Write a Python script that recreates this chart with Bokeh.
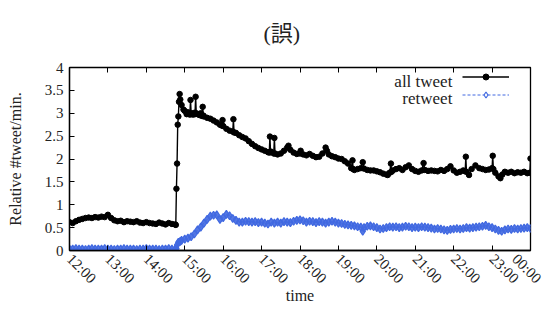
import math
from bokeh.plotting import figure
from bokeh.models import (ColumnDataSource, FixedTicker, LinearAxis, Legend,
                          LegendItem, Label, Range1d)
from bokeh.embed import file_html
from bokeh.resources import INLINE

# ---------------- data ----------------
hour_ticks = [0, 60, 120, 180, 240, 300, 360, 420, 480, 540, 600, 660, 720]  # minutes after 12:00
hour_labels = ["12:00", "13:00", "14:00", "15:00", "16:00", "17:00", "18:00",
               "19:00", "20:00", "21:00", "22:00", "23:00", "00:00"]
y_ticks = [0, 0.5, 1, 1.5, 2, 2.5, 3, 3.5, 4]
y_tick_labels = ["0", "0.5", "1", "1.5", "2", "2.5", "3", "3.5", "4"]

all_minutes = [0, 5, 10, 15, 20, 25, 30, 35, 40, 45, 50, 55, 60, 65, 70, 75, 80, 85, 90, 95,
               100, 105, 110, 115, 120, 125, 130, 135, 140, 145, 150, 155, 160, 165, 166,
               167, 168, 169, 170, 171, 172, 173, 175, 178, 180, 183, 185, 188, 189, 190,
               193, 195, 196, 197, 198, 200, 203, 205, 207, 208, 209, 210, 215, 220, 225,
               230, 235, 238, 239, 240, 245, 250, 255, 256, 257, 260, 265, 270, 275, 280,
               285, 290, 295, 300, 305, 310, 312, 313, 314, 315, 319, 320, 321, 325, 330,
               335, 340, 342, 345, 350, 355, 360, 361, 365, 370, 375, 380, 385, 390, 395,
               400, 402, 405, 410, 415, 420, 425, 430, 435, 440, 442, 443, 445, 450, 455,
               458, 460, 465, 470, 475, 480, 485, 490, 495, 497, 500, 502, 503, 505, 510,
               515, 520, 525, 530, 535, 540, 545, 550, 553, 555, 560, 565, 570, 575, 580,
               585, 590, 595, 600, 605, 610, 615, 618, 619, 620, 624, 628, 634, 640, 645,
               650, 655, 660, 661, 662, 665, 670, 673, 676, 680, 685, 690, 695, 700, 705,
               710, 715, 719, 720]
all_values = [0.62, 0.60, 0.64, 0.67, 0.69, 0.71, 0.72, 0.71, 0.73, 0.72, 0.74, 0.73, 0.78, 0.71,
              0.66, 0.64, 0.65, 0.62, 0.64, 0.63, 0.62, 0.64, 0.61, 0.60, 0.62, 0.60, 0.59, 0.58,
              0.61, 0.59, 0.57, 0.60, 0.58, 0.57, 0.56,
              1.35, 1.90, 2.75, 2.93, 3.25, 3.42, 3.30, 3.18, 3.08, 3.05, 2.98, 3.02, 2.97, 3.29,
              3.00, 2.97, 3.01, 2.98, 3.36, 3.00, 2.98, 2.96, 3.00, 2.94, 3.14, 2.95, 2.93, 2.90,
              2.88, 2.84, 2.80, 2.75, 2.73, 2.85, 2.72, 2.66, 2.62, 2.60, 2.87, 2.58, 2.57, 2.52,
              2.48, 2.45, 2.39, 2.33, 2.28, 2.24, 2.21, 2.18, 2.15, 2.14, 2.49, 2.15, 2.16, 2.12,
              2.46, 2.12, 2.10, 2.12, 2.18, 2.25, 2.29, 2.20, 2.14, 2.11, 2.12, 2.18, 2.10, 2.08,
              2.11, 2.07, 2.04, 2.05, 2.12, 2.25, 2.18, 2.10, 2.06, 2.04, 2.01, 2.00, 1.95, 1.90,
              1.80, 1.97, 1.78, 1.76, 1.78, 1.80, 1.93, 1.79, 1.76, 1.75, 1.75, 1.73, 1.71, 1.68,
              1.66, 1.65, 1.70, 1.90, 1.72, 1.75, 1.78, 1.80, 1.76, 1.82, 1.86, 1.78, 1.74, 1.72,
              1.75, 1.91, 1.76, 1.74, 1.75, 1.74, 1.73, 1.76, 1.74, 1.78, 1.84, 1.75, 1.70, 1.72,
              1.75, 1.73, 2.05, 1.72, 1.65, 1.78, 1.86, 1.80, 1.78, 1.76, 1.77, 1.80, 2.07, 1.78,
              1.70, 1.62, 1.58, 1.66, 1.72, 1.70, 1.72, 1.69, 1.71, 1.70, 1.72, 1.69, 1.70, 2.01]

rt_minutes = [0, 5, 10, 15, 20, 25, 30, 35, 40, 45, 50, 55, 60, 65, 70, 75, 80, 85, 90, 95,
              100, 105, 110, 115, 120, 125, 130, 135, 140, 145, 150, 155, 160, 165, 166,
              167, 168, 170, 173, 175, 180, 185, 190, 195, 200, 205, 210, 215, 220, 225,
              230, 235, 240, 245, 250, 255, 260, 265, 270, 275, 280, 285, 290, 295, 300,
              305, 310, 315, 320, 325, 330, 335, 340, 345, 350, 355, 360, 365, 370, 375,
              380, 385, 390, 395, 400, 405, 410, 415, 420, 425, 430, 435, 440, 445, 450,
              455, 458, 460, 465, 470, 475, 480, 485, 490, 495, 500, 505, 510, 515, 520,
              525, 530, 535, 540, 545, 550, 555, 560, 565, 570, 575, 580, 585, 590, 595,
              600, 605, 610, 615, 620, 625, 630, 635, 640, 645, 650, 655, 660, 665, 670,
              675, 680, 685, 690, 695, 700, 705, 710, 715, 720]
rt_values = [0.03, 0.03, 0.04, 0.03, 0.03, 0.02, 0.03, 0.04, 0.03, 0.03, 0.03, 0.04, 0.03, 0.03,
             0.02, 0.03, 0.03, 0.04, 0.03, 0.03, 0.03, 0.02, 0.03, 0.03, 0.04, 0.03, 0.03, 0.03,
             0.02, 0.03, 0.03, 0.04, 0.03, 0.03, 0.03,
             0.04, 0.12, 0.18, 0.20, 0.22, 0.25, 0.27, 0.30, 0.36, 0.45, 0.51, 0.60, 0.68, 0.75,
             0.77, 0.78, 0.68, 0.72, 0.79, 0.76, 0.70, 0.66, 0.62, 0.62, 0.64, 0.63, 0.62, 0.63,
             0.61, 0.62, 0.60, 0.58, 0.62, 0.60, 0.62, 0.60, 0.63, 0.62, 0.61, 0.64, 0.66, 0.67,
             0.65, 0.62, 0.64, 0.63, 0.61, 0.63, 0.62, 0.60, 0.62, 0.64, 0.62, 0.60, 0.59, 0.57,
             0.56, 0.55, 0.54, 0.52, 0.51, 0.42, 0.50, 0.53, 0.54, 0.52, 0.50, 0.47, 0.48, 0.50,
             0.52, 0.51, 0.52, 0.50, 0.51, 0.53, 0.52, 0.50, 0.51, 0.50, 0.52, 0.51, 0.50, 0.49,
             0.47, 0.48, 0.47, 0.45, 0.44, 0.46, 0.47, 0.48, 0.47, 0.48, 0.50, 0.49, 0.50, 0.51,
             0.52, 0.53, 0.55, 0.52, 0.50, 0.47, 0.44, 0.42, 0.45, 0.47, 0.46, 0.48, 0.47, 0.48,
             0.49, 0.50, 0.48]

# ---------------- figure ----------------
FONT = "'Liberation Serif', 'Noto Sans CJK JP', serif"
TXT = "#222222"
BLUE = "#4169E1"

p = figure(width=544, height=306, output_backend="svg", toolbar_location=None,
           x_range=Range1d(0, 720), y_range=Range1d(0, 4),
           min_border_left=69, min_border_right=14, min_border_top=65, min_border_bottom=54)
p.xgrid.visible = False
p.ygrid.visible = False
p.outline_line_color = "black"
p.outline_line_width = 1.3
p.background_fill_color = "white"
p.border_fill_color = "white"

p.title.text = "(誤)"
p.title.align = "left"
p.title.offset = 194
p.title.text_font = FONT
p.title.text_font_size = "22px"
p.title.text_font_style = "normal"
p.title.text_color = TXT
p.title.vertical_align = "top"
p.title.standoff = 40

src_all = ColumnDataSource(dict(x=all_minutes, y=all_values))
src_rt = ColumnDataSource(dict(x=rt_minutes, y=rt_values))
src_proxy = ColumnDataSource(dict(x=[float("nan")], y=[float("nan")]))

p.line("x", "y", source=src_rt, line_color=BLUE, line_width=1, line_dash="3 2")
p.scatter("x", "y", source=src_rt, marker="diamond", size=8, fill_color=BLUE,
          fill_alpha=0.9, line_color=BLUE, line_width=1.2)
r_all_line = p.line("x", "y", source=src_all, line_color="black", line_width=1.4)
r_all_pts = p.scatter("x", "y", source=src_all, marker="circle", size=5.5,
                      fill_color="black", line_color="black")

# legend proxies for the retweet sample (open diamond on a dashed line)
lg_rt_line = p.line("x", "y", source=src_proxy, line_color=BLUE, line_width=1, line_dash="3 2")
lg_rt_pts = p.scatter("x", "y", source=src_proxy, marker="diamond", size=8, fill_color="white",
                      line_color=BLUE, line_width=1.2)

# axes
xax = p.xaxis[0]
xax.ticker = FixedTicker(ticks=hour_ticks)
xax.major_label_overrides = {t: l for t, l in zip(hour_ticks, hour_labels)}
xax.major_label_orientation = -math.pi / 4
xax.axis_label = "time"
xax.axis_label_standoff = -8
yax = p.yaxis[0]
yax.ticker = FixedTicker(ticks=y_ticks)
yax.major_label_overrides = {t: l for t, l in zip(y_ticks, y_tick_labels)}
yax.axis_label = "Relative #tweet/min."
yax.axis_label_standoff = 18

for ax in (xax, yax):
    ax.major_tick_in = 5
    ax.major_tick_out = 0
    ax.minor_tick_in = 0
    ax.minor_tick_out = 0
    ax.axis_line_color = "black"
    ax.axis_line_width = 1.3
    ax.major_tick_line_color = "black"
    ax.major_label_text_font = FONT
    ax.major_label_text_font_size = "15px"
    ax.major_label_text_color = TXT
    ax.axis_label_text_font = FONT
    ax.axis_label_text_font_size = "16px"
    ax.axis_label_text_font_style = "normal"
    ax.axis_label_text_color = TXT
yax.major_label_standoff = 6
xax.major_label_standoff = 6

top = LinearAxis(ticker=FixedTicker(ticks=hour_ticks))
top.major_tick_in = 5
top.major_tick_out = 0
top.minor_tick_in = 0
top.minor_tick_out = 0
top.major_label_overrides = {t: "" for t in hour_ticks}
top.major_label_standoff = 0
top.axis_line_color = "black"
p.add_layout(top, "above")

# legend (gnuplot style: text on the left, sample on the right)
legend = Legend(items=[LegendItem(label="", renderers=[r_all_line, r_all_pts]),
                       LegendItem(label="", renderers=[lg_rt_line, lg_rt_pts])],
                location=(393, 148), glyph_width=47, glyph_height=15, spacing=3,
                padding=0, margin=0, label_standoff=0, label_width=0,
                border_line_color=None, background_fill_alpha=0)
p.add_layout(legend)
for txt, yv in (("all tweet", 3.70), ("retweet", 3.32)):
    p.add_layout(Label(x=598, y=yv, text=txt, text_align="right", text_baseline="middle",
                       text_font=FONT, text_font_size="17px", text_color=TXT))

open("out.html", "w").write(file_html(p, INLINE))
